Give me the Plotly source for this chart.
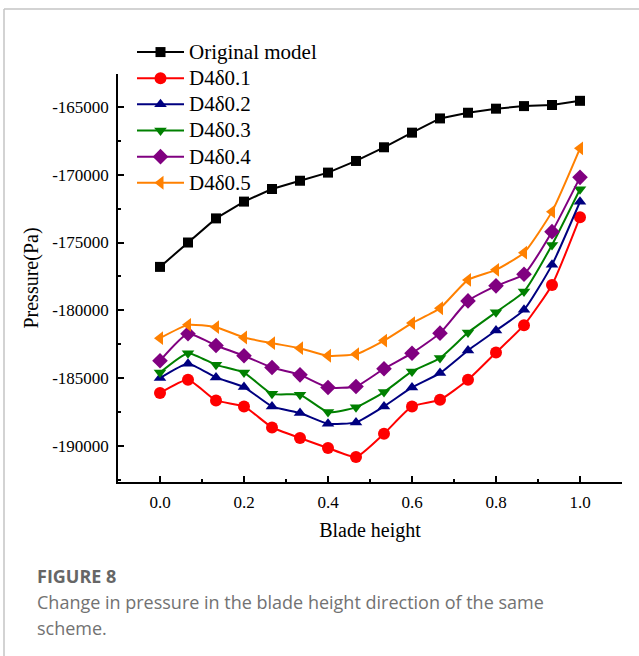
import plotly.graph_objects as go

# ---- data ----
blade_height = [i / 15 for i in range(16)]
original = [-176800, -175000, -173220, -171980, -171050, -170440, -169840, -168980,
            -167970, -166890, -165840, -165420, -165120, -164930, -164850, -164540]
d01 = [-186110, -185130, -186660, -187100, -188650, -189430, -190170, -190830,
       -189110, -187100, -186610, -185130, -183120, -181100, -178130, -173130]
d02 = [-185010, -183950, -184960, -185670, -187100, -187590, -188380, -188280,
       -187100, -185700, -184640, -182970, -181500, -179970, -176650, -171990]
d03 = [-184600, -183170, -184030, -184600, -186170, -186240, -187520, -187170,
       -186040, -184520, -183530, -181650, -180140, -178620, -175180, -171070]
d04 = [-183730, -181740, -182600, -183360, -184230, -184770, -185700, -185630,
       -184320, -183170, -181690, -179310, -178200, -177340, -174200, -170190]
d05 = [-182060, -181080, -181250, -182010, -182430, -182800, -183360, -183240,
       -182240, -180950, -179850, -177760, -177020, -175750, -172720, -168050]

series_names = ["Original model", "D4δ0.1", "D4δ0.2", "D4δ0.3", "D4δ0.4", "D4δ0.5"]
series_values = [original, d01, d02, d03, d04, d05]
colors = ["#000000", "#FF0000", "#000080", "#008000", "#800080", "#FF8000"]
symbols = ["square", "circle", "triangle-up", "triangle-down", "diamond", "triangle-left"]
sizes = [10, 12, 11, 11, 12, 12]

x_ticks = [0.0, 0.2, 0.4, 0.6, 0.8, 1.0]
y_ticks = [-190000, -185000, -180000, -175000, -170000, -165000]

# ---- layout geometry (pixels) ----
W, H = 639, 656
L, R, T, B = 118, 622, 74, 482


def px(xp):
    return (xp - L) / (R - L)


def py(yp):
    return (B - yp) / (B - T)


fig = go.Figure()
for name, vals, c, s, sz in zip(series_names, series_values, colors, symbols, sizes):
    shape = "linear" if name == "Original model" else "spline"
    fig.add_trace(go.Scatter(
        x=blade_height, y=vals, mode="lines+markers",
        name=f"<span style='font-size:21px'>{name}</span>",
        line=dict(color=c, width=2, shape=shape, smoothing=0.5),
        marker=dict(symbol=s, size=sz, color=c, line=dict(width=0)),
    ))

axis_font = dict(family="Liberation Serif, Times New Roman, serif", size=17, color="#000")
title_font = dict(family="Liberation Serif, Times New Roman, serif", size=20, color="#000")

fig.update_layout(
    width=W, height=H,
    margin=dict(l=L, r=W - R, t=T, b=H - B, autoexpand=False),
    paper_bgcolor="white", plot_bgcolor="white",
    showlegend=True,
    legend=dict(
        x=px(132), y=py(34), xanchor="left", yanchor="top",
        font=dict(family="Liberation Serif, Times New Roman, serif", size=17.8, color="#000"),
        bgcolor="rgba(0,0,0,0)", borderwidth=0, tracegroupgap=0,
        itemwidth=47,
    ),
    xaxis=dict(
        range=[-0.1, 1.1], tickvals=x_ticks, ticktext=[f"{v:.1f}" for v in x_ticks],
        showgrid=False, zeroline=False, showline=True, linecolor="#000", linewidth=1.5,
        ticks="inside", ticklen=6, tickwidth=1.5, tickcolor="#000",
        minor=dict(ticks="inside", ticklen=3, tickwidth=1.5, tickcolor="#000", dtick=0.1, tick0=0, showgrid=False),
        tickfont=axis_font, ticklabelstandoff=4,
        title=dict(text="Blade height", font=title_font, standoff=12),
    ),
    yaxis=dict(
        range=[-192680, -162560], tickvals=y_ticks, ticktext=[str(v) for v in y_ticks],
        showgrid=False, zeroline=False, showline=True, linecolor="#000", linewidth=1.5,
        ticks="inside", ticklen=6, tickwidth=1.5, tickcolor="#000",
        minor=dict(ticks="inside", ticklen=3, tickwidth=1.5, tickcolor="#000", dtick=2500, tick0=0, showgrid=False),
        tickfont=axis_font, ticklabelstandoff=4,
        title=dict(text="Pressure(Pa)", font=title_font, standoff=8),
    ),
    shapes=[
        dict(type="line", xref="paper", yref="paper", x0=px(4), x1=px(W + 5), y0=py(9), y1=py(9),
             line=dict(color="#c4c4c4", width=1.5)),
        dict(type="line", xref="paper", yref="paper", x0=px(4), x1=px(4), y0=py(9), y1=py(H + 5),
             line=dict(color="#c4c4c4", width=1.5)),
    ],
    annotations=[
        dict(text="<b>FIGURE 8</b>", xref="paper", yref="paper", x=px(35), y=py(576),
             xanchor="left", yanchor="middle", showarrow=False,
             font=dict(family="Open Sans, sans-serif", size=18, color="#666666")),
        dict(text="Change in pressure in the blade height direction of the same",
             xref="paper", yref="paper", x=px(35), y=py(602),
             xanchor="left", yanchor="middle", showarrow=False,
             font=dict(family="Open Sans, sans-serif", size=18, color="#727272")),
        dict(text="scheme.", xref="paper", yref="paper", x=px(35), y=py(628),
             xanchor="left", yanchor="middle", showarrow=False,
             font=dict(family="Open Sans, sans-serif", size=18, color="#727272")),
    ],
)

fig.write_html("out.html")
